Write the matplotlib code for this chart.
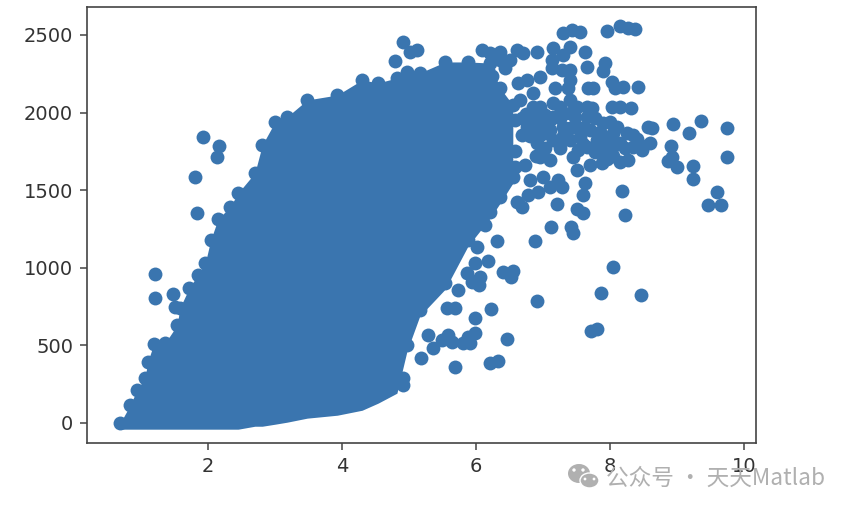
import matplotlib
matplotlib.use('Agg')
import matplotlib.pyplot as plt
from matplotlib.patches import Ellipse, Circle

# solid body of the cloud: edge points, low and high side at each x
rim_x = [0.69, 0.84, 0.94, 1.06, 1.10, 1.19, 1.36, 1.54, 1.58, 1.72, 1.85, 1.96, 2.04, 2.15, 2.33, 2.45,
         2.70, 2.81, 3.00, 3.18, 3.48, 3.93, 4.30, 4.54, 4.82, 4.97, 5.16, 5.54, 5.88, 6.21, 6.36, 6.55]
rim_high = [0, 116, 213, 290, 393, 509, 515, 631, 741, 870, 954, 1031, 1179, 1314, 1392, 1482,
            1611, 1791, 1939, 1972, 2081, 2113, 2210, 2191, 2223, 2261, 2255, 2326, 2326, 2319, 2158, 2049]
rim_low = [0, 0, 0, 0, 0, 0, 0, 0, 0, 0, 0, 0, 0, 0, 0, 0,
           19, 19, 32, 45, 71, 90, 122, 168, 232, 503, 728, 902, 1179, 1359, 1456, 1585]

# points outside the body
top_x = [4.91, 4.79, 5.01, 5.12, 6.09, 6.21, 6.36, 6.61, 6.70, 6.91, 7.15, 7.30, 7.40, 7.30, 7.43, 7.55,
         7.96, 8.15, 8.27, 8.37, 7.63, 7.66, 7.93, 7.90, 7.40, 7.28, 7.13, 7.13, 7.40, 7.37, 7.67, 7.75,
         8.03, 8.07, 8.19, 8.42, 8.03, 8.15, 8.31, 6.96, 6.76, 6.63, 7.18, 6.51, 6.18, 6.43, 6.36, 6.24]
top_y = [2455, 2332, 2390, 2403, 2403, 2384, 2390, 2403, 2384, 2390, 2416, 2371, 2423, 2513, 2532, 2519,
         2526, 2558, 2545, 2539, 2390, 2294, 2319, 2268, 2274, 2274, 2339, 2287, 2210, 2158, 2158, 2158,
         2197, 2158, 2165, 2165, 2036, 2036, 2030, 2229, 2210, 2191, 2158, 2339, 2274, 2287, 2339, 2236]

mid_x = [7.66, 7.73, 7.40, 7.15, 6.85, 6.66, 6.85, 7.15, 7.40, 7.66, 7.90, 8.00, 8.10, 8.25, 8.34, 8.57,
         8.63, 8.60, 8.48, 8.27, 8.15, 8.34, 8.15, 8.04, 7.96, 7.81, 7.55, 7.30, 7.00, 6.76, 7.51, 7.70,
         6.91, 7.15, 7.40, 7.66, 7.88, 7.70, 7.51, 7.45, 7.85, 7.10, 6.96, 6.81, 7.00, 7.22, 7.28, 7.10,
         6.93, 6.78, 7.63, 7.60, 6.61, 6.69, 7.21, 7.51, 7.60, 7.12, 7.42, 8.18, 8.22, 6.69, 6.69, 6.73,
         6.96, 7.25, 7.51, 6.88, 7.03, 7.25, 7.48, 7.78, 6.88, 7.10, 7.40, 7.85, 7.03, 7.25, 7.52, 7.78,
         8.03, 8.22, 6.96, 6.58, 6.58, 6.58, 6.75, 6.95, 7.10, 7.30, 7.60, 7.30, 7.05, 6.80, 7.60, 7.85,
         8.00, 7.95, 8.05, 8.40, 8.45, 6.90]
mid_y = [2036, 2030, 2081, 2062, 2126, 2081, 2036, 1972, 1997, 1972, 1933, 1939, 1907, 1868, 1856, 1907,
         1901, 1804, 1759, 1695, 1682, 1778, 1804, 1868, 1778, 1823, 1843, 1907, 1933, 1907, 1907, 1888,
         1804, 1823, 1823, 1778, 1675, 1662, 1630, 1714, 1759, 1695, 1714, 1566, 1585, 1566, 1521, 1521,
         1488, 1469, 1546, 1469, 1424, 1392, 1411, 1379, 1353, 1263, 1263, 1495, 1340, 1965, 1856, 1662,
         2036, 2036, 2036, 1965, 1985, 1965, 1972, 1965, 1875, 1888, 1901, 1875, 1772, 1772, 1759, 1746,
         1772, 1772, 1856, 1950, 1750, 1650, 1990, 1930, 1950, 1990, 1900, 1850, 1870, 1850, 1800, 1820,
         1830, 1700, 1720, 1830, 1790, 1720]

far_x = [8.94, 9.36, 9.18, 9.75, 9.75, 8.91, 8.93, 8.87, 9.00, 9.24, 9.24, 9.60, 9.46, 9.66]
far_y = [1926, 1946, 1868, 1901, 1714, 1785, 1714, 1688, 1649, 1656, 1572, 1488, 1405, 1405]

left_x = [1.93, 2.16, 2.13, 1.81, 1.84, 1.21, 1.21, 1.48, 1.51]
left_y = [1843, 1785, 1714, 1585, 1353, 960, 805, 831, 747]

low_x = [6.88, 7.45, 6.31, 6.18, 6.06, 6.40, 6.55, 6.52, 5.94, 6.04, 5.73, 8.04, 7.87, 8.46, 6.91, 6.22,
         5.57, 5.69, 5.99, 5.99, 5.88, 5.58, 5.64, 5.49, 5.36, 5.28, 5.91, 5.81, 6.46, 7.72, 7.81, 5.18,
         5.69, 6.21, 6.33, 4.91, 4.91, 6.01, 5.99, 5.87, 6.13]
low_y = [1173, 1224, 1173, 1044, 941, 973, 979, 941, 908, 889, 857, 1005, 838, 825, 786, 734,
         741, 741, 677, 580, 554, 567, 522, 535, 483, 567, 515, 515, 541, 593, 606, 419,
         361, 387, 399, 290, 245, 1134, 1031, 966, 1276]

COLOR = '#3a75af'
W, H = 852, 511
SIZE = 100
EDGE = 40  # marker radius in data units, the body's flat underside

fig = plt.figure(figsize=(W / 100, H / 100), dpi=100)
ax = fig.add_axes([87 / W, 1 - 443 / H, (756 - 87) / W, (443 - 7) / H])

ax.fill_between(rim_x, [v - EDGE for v in rim_low], rim_high, color=COLOR, lw=0)
ax.scatter(rim_x, rim_high, s=SIZE, color=COLOR, lw=0)
ax.scatter(rim_x[25:], rim_low[25:], s=SIZE, color=COLOR, lw=0)
for xs, ys in [(top_x, top_y), (mid_x, mid_y), (far_x, far_y), (left_x, left_y), (low_x, low_y)]:
    ax.scatter(xs, ys, s=SIZE, color=COLOR, lw=0)

ax.set_xlim(0.194, 10.18)
ax.set_ylim(-129, 2680)
ax.set_xticks([2, 4, 6, 8, 10])
ax.set_yticks([0, 500, 1000, 1500, 2000, 2500])
ax.tick_params(labelsize=14, length=5, width=1.1, pad=5, color='#444444', labelcolor='#333333')
for s in ax.spines.values():
    s.set_linewidth(1.2)
    s.set_color('#444444')

# watermark
GREY = '#b0b0b0'
wm = fig.add_axes([0, 0, 1, 1], facecolor='none')
wm.set_xlim(0, W)
wm.set_ylim(H, 0)
wm.axis('off')
wm.add_patch(Ellipse((579, 473.5), 22, 19, color=GREY, lw=0))
wm.add_patch(Ellipse((589.5, 480.5), 19, 15, fc=GREY, ec='white', lw=1))
for cx, cy, r in [(574, 470, 1.7), (583, 470, 1.7), (585, 479, 1.4), (594, 479, 1.4)]:
    wm.add_patch(Circle((cx, cy), r, color='white', lw=0))
wm.text(606, 478, '公众号 · 天天Matlab', fontsize=16.3, color=GREY, va='center', ha='left',
        family=['Noto Sans CJK SC', 'DejaVu Sans'])

fig.savefig('out.png', dpi=100)
